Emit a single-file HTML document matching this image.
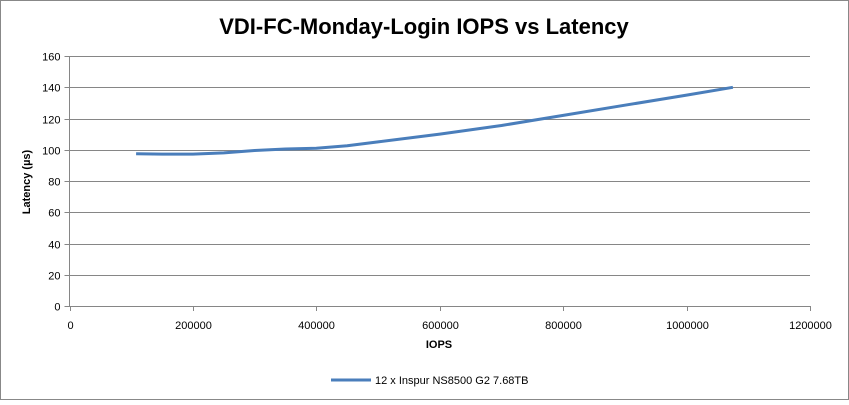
<!DOCTYPE html>
<html><head><meta charset="utf-8"><style>
body{margin:0;background:#fff;font-family:"Liberation Sans",sans-serif;}
#wrap{position:relative;width:849px;height:400px;}
</style></head><body>
<div id="wrap">
<svg id="chart" width="849" height="400">
<rect x="0.5" y="0.5" width="848" height="399" fill="#fff" stroke="#888"/>
<text x="424" y="34" text-anchor="middle" font-size="22" font-weight="bold" fill="#000">VDI-FC-Monday-Login IOPS vs Latency</text>
<g id="grid"></g>
<g id="axes"></g>
<path id="series" fill="none" stroke="#4a7ebb" stroke-width="3" stroke-linejoin="round"/>
<text x="439" y="348" text-anchor="middle" font-size="11" font-weight="bold">IOPS</text>
<text transform="translate(30,182) rotate(-90)" text-anchor="middle" font-size="11" font-weight="bold">Latency (µs)</text>
<g>
<line x1="331" y1="380" x2="371" y2="380" stroke="#4a7ebb" stroke-width="3"/>
<text x="375" y="384" font-size="11">12 x Inspur NS8500 G2 7.68TB</text>
</g>
</svg>
</div>
<script>
const xTicks=[0,200000,400000,600000,800000,1000000,1200000];
const yTicks=[0,20,40,60,80,100,120,140,160];
const iops=[108000,150000,200000,250000,300000,350000,400000,450000,500000,600000,700000,800000,900000,1000000,1075000];
const latency=[97.5,97.2,97.2,98,99.5,100.5,101,102.5,105,110,115.5,122,128.5,135,140];
const X0=69.5,X1=810,Y0=306,Y1=56;
function sx(v){return X0+(v/1200000)*(X1-X0);}
function sy(v){return Y0-(v/160)*(Y0-Y1);}
const ns="http://www.w3.org/2000/svg";
const grid=document.getElementById('grid'),axes=document.getElementById('axes');
function mk(t,a,p){const e=document.createElementNS(ns,t);for(const k in a)e.setAttribute(k,a[k]);p.appendChild(e);return e;}
yTicks.forEach(v=>{
  const y=Math.round(sy(v))+0.5;
  const l=mk('line',{x1:X0-5,x2:X1,y1:y,y2:y,stroke:'#868686','stroke-width':1},grid);
  
  
  const t=mk('text',{x:X0-9,y:y+4,'text-anchor':'end','font-size':11,fill:'#000'},axes);
  t.textContent=v;
  
  
});
const ax=mk('line',{x1:X0,x2:X0,y1:Y1,y2:Y0,stroke:'#868686'},axes);


xTicks.forEach(v=>{
  const x=Math.round(sx(v))+0.5;
  const l=mk('line',{x1:x,x2:x,y1:Y0,y2:Y0+5,stroke:'#868686'},axes);
  
  
  const t=mk('text',{x:x,y:Y0+23,'text-anchor':'middle','font-size':11,fill:'#000'},axes);
  t.textContent=v;
  
  
});
let d='';
iops.forEach((v,i)=>{d+=(i?'L':'M')+sx(v).toFixed(1)+','+sy(latency[i]).toFixed(1);});
document.getElementById('series').setAttribute('d',d);
</script>
</body></html>
